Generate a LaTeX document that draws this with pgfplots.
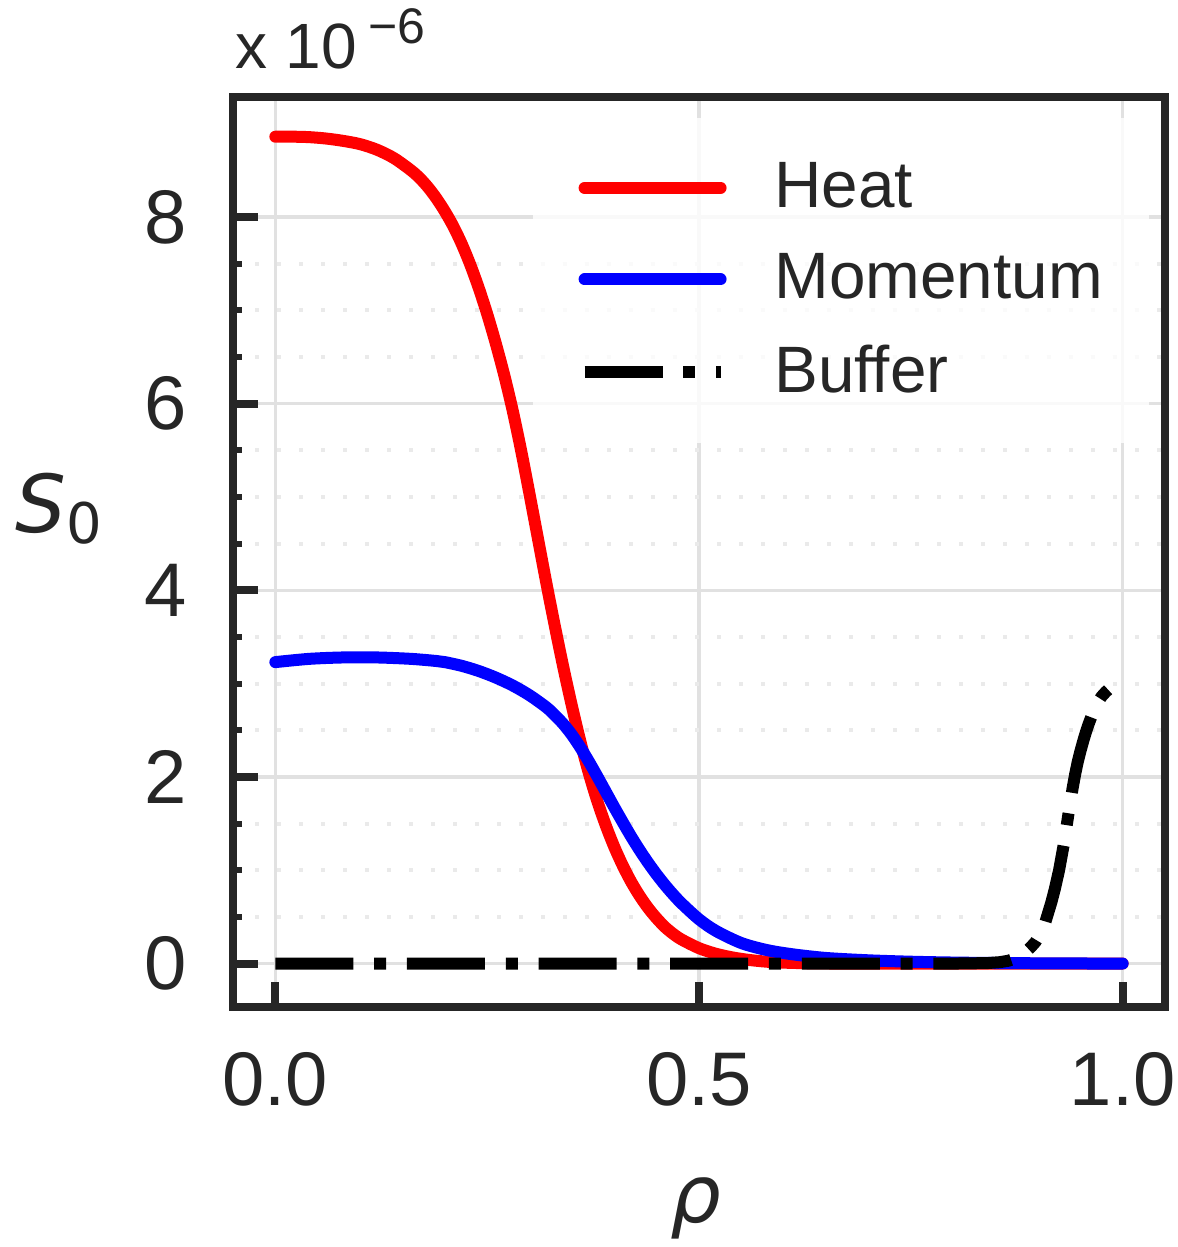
\documentclass[border=0pt]{standalone}
\usepackage{fontspec}
\setmainfont{Liberation Sans}
\newfontfamily\dejavu{DejaVu Sans}
\usepackage{pgfplots}
\pgfplotsset{compat=1.18}
\definecolor{axcol}{RGB}{38,38,38}
\definecolor{gridmaj}{RGB}{225,225,225}
\definecolor{gridmin}{RGB}{234,234,234}
\begin{document}
\begin{tikzpicture}
\useasboundingbox (-58.25pt,-60.125pt) rectangle (236.25pt,251.625pt);
\begin{axis}[
  at={(0pt,0pt)}, anchor=south west,
  scale only axis, width=233pt, height=227.25pt,
  xmin=-0.05, xmax=1.05, ymin=-0.46, ymax=9.28,
  xtick={0,0.5,1}, ytick={0,2,4,6,8},
  minor y tick num=3,
  tick align=inside, xtick pos=left, ytick pos=left,
  major tick length=6.25pt, minor tick length=2.25pt,
  tick style={axcol, line width=2pt},
  every minor tick/.append style={line width=1.5pt},
  axis line style={axcol, line width=2pt, line cap=rect},
  xmajorgrids, ymajorgrids, yminorgrids,
  major grid style={gridmaj, line width=0.8pt},
  minor grid style={gridmin, line width=1pt, dash pattern=on 1pt off 4.5pt},
  /pgf/number format/assume math mode=true,
  tick label style={font=\fontsize{19}{19}\selectfont, text=axcol, inner sep=0pt},
  yticklabel style={anchor=east, xshift=-11.25pt},
  xticklabel style={anchor=north, yshift=-11.4pt,
    /pgf/number format/fixed, /pgf/number format/fixed zerofill, /pgf/number format/precision=1},
  legend style={at={(0.3206,0.978)}, anchor=north west, draw=none, fill=white,
    fill opacity=0.8, text opacity=1, inner xsep=11.5pt, inner ysep=11pt,
    row sep=10.1pt, font=\fontsize{16.4}{16.4}\selectfont, text=axcol,
    nodes={inner sep=0pt}},
  legend cell align=left,
  legend image code/.code={\draw[#1] (0pt,0pt) -- (34pt,0pt); \path (46pt,0pt);},
]
\addplot[red, line width=3pt, line cap=round, line join=round, smooth, tension=0.5] table {
x y
0 8.86
0.02 8.86
0.04 8.855
0.06 8.84
0.08 8.815
0.10 8.78
0.12 8.72
0.14 8.63
0.16 8.50
0.17 8.42
0.18 8.32
0.19 8.20
0.20 8.06
0.21 7.90
0.22 7.71
0.23 7.49
0.24 7.24
0.25 6.96
0.26 6.65
0.27 6.31
0.28 5.93
0.29 5.50
0.30 5.03
0.31 4.55
0.32 4.07
0.33 3.61
0.34 3.17
0.35 2.76
0.36 2.38
0.37 2.04
0.38 1.74
0.39 1.48
0.40 1.25
0.41 1.05
0.42 0.875
0.43 0.725
0.44 0.595
0.45 0.485
0.46 0.39
0.47 0.315
0.48 0.255
0.50 0.165
0.52 0.105
0.54 0.065
0.56 0.038
0.58 0.02
0.60 0.01
0.63 0.003
0.66 0.0005
0.70 0
1.00 0
};
\addlegendentry{Heat}
\addplot[blue, line width=3pt, line cap=round, line join=round, smooth, tension=0.5] table {
x y
0 3.23
0.04 3.265
0.08 3.28
0.12 3.28
0.16 3.265
0.19 3.242
0.20 3.23
0.22 3.19
0.24 3.135
0.26 3.065
0.28 2.98
0.30 2.875
0.32 2.745
0.33 2.66
0.34 2.565
0.35 2.45
0.36 2.315
0.37 2.165
0.38 2.005
0.39 1.84
0.40 1.675
0.41 1.515
0.42 1.36
0.43 1.215
0.44 1.08
0.45 0.955
0.46 0.84
0.47 0.735
0.48 0.64
0.50 0.475
0.52 0.35
0.55 0.22
0.58 0.145
0.61 0.10
0.65 0.06
0.70 0.035
0.75 0.02
0.80 0.011
0.85 0.006
0.90 0.003
0.95 0.001
1.00 0
};
\addlegendentry{Momentum}
\addplot[black, line width=3pt, dash pattern=on 19.5pt off 5.2pt on 3pt off 5.2pt] table {
x y
0 0
0.80 0
0.84 0.005
0.855 0.015
0.865 0.03
0.875 0.06
0.885 0.12
0.891 0.17
0.897 0.23
0.901 0.29
0.905 0.36
0.909 0.45
0.912 0.54
0.916 0.66
0.92 0.80
0.925 1.00
0.931 1.30
0.936 1.60
0.941 1.88
0.944 2.03
0.947 2.16
0.950 2.27
0.954 2.40
0.957 2.49
0.96 2.57
0.965 2.69
0.97 2.79
0.975 2.86
0.98 2.91
0.986 2.96
0.99 2.98
};
\addlegendentry{Buffer}
\end{axis}
\node[anchor=base west, inner sep=0pt, text=axcol] at (-54.5pt,118.6pt)
  {\fontsize{20}{20}\selectfont\dejavu\itshape S\upshape\raisebox{-2.75pt}{\fontsize{14}{14}\selectfont 0}};
\node[anchor=base, inner sep=0pt, text=axcol] at (115.75pt,-53.9pt)
  {\fontsize{20}{20}\selectfont\dejavu\itshape ρ};
\node[anchor=base west, inner sep=0pt, text=axcol] at (0.5pt,234.6pt)
  {\fontsize{16}{16}\selectfont x 10\hspace{3pt}\raisebox{6.25pt}{\fontsize{12.5}{12.5}\selectfont −6}};
\end{tikzpicture}
\end{document}
